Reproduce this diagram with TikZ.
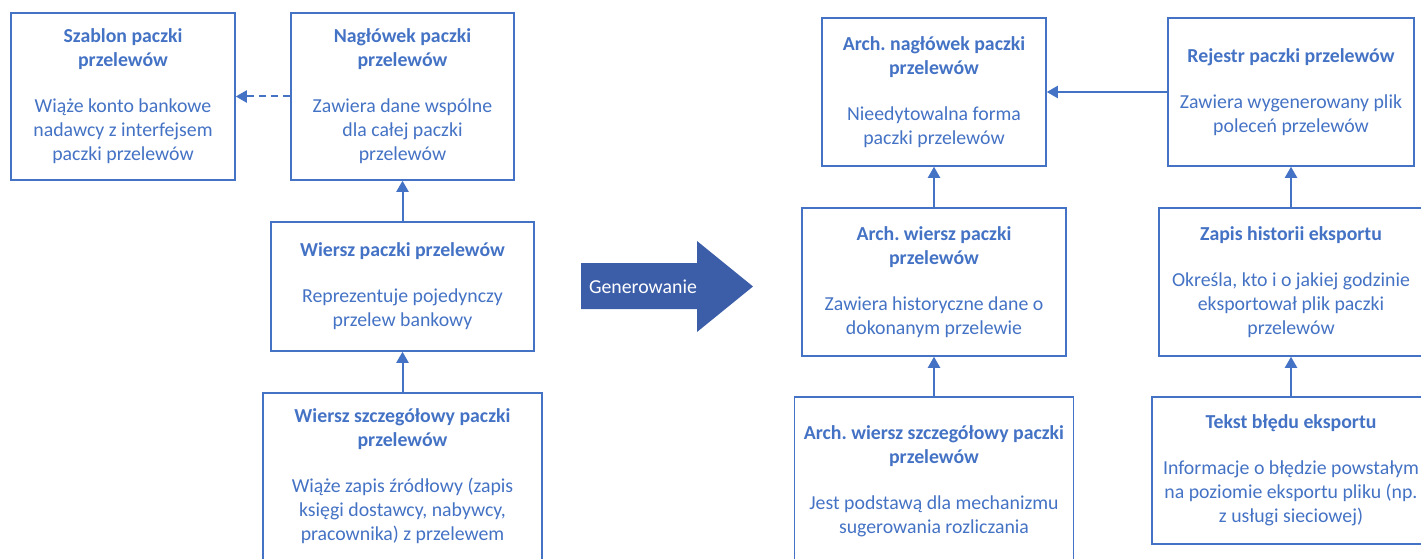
\documentclass[tikz,border=0pt]{standalone}
\usepackage{fontspec}
\setmainfont{Carlito}
\usetikzlibrary{arrows.meta}
\definecolor{mblue}{HTML}{4472C4}
\definecolor{dblue}{HTML}{3C5DA8}
\frenchspacing
\tikzset{
  box/.style={draw=mblue, line width=1.5pt, text=mblue, align=center,
    font=\fontsize{19.8}{24}\selectfont, inner sep=0pt},
  conn/.style={draw=mblue, line width=2pt, -{Triangle[length=11pt,width=12pt]}},
  dashconn/.style={conn, dash pattern=on 7pt off 5pt},
}
\begin{document}
\begin{tikzpicture}[x=1pt,y=-1pt]
\useasboundingbox (0,0) rectangle (1421,559);
\clip (0,0) rectangle (1421,559);
\node[box, minimum width=224pt, minimum height=167pt] (szablon) at (123,96.5)
  {\textbf{Szablon paczki}\\\textbf{przelewów}\\[22pt]Wiąże konto bankowe\\nadawcy z interfejsem\\paczki przelewów};
\node[box, minimum width=223pt, minimum height=167pt] (naglowek) at (402.5,96.5)
  {\textbf{Nagłówek paczki}\\\textbf{przelewów}\\[22pt]Zawiera dane wspólne\\dla całej paczki\\przelewów};
\node[box, minimum width=263pt, minimum height=129pt] (wiersz) at (402.5,286.5)
  {\textbf{Wiersz paczki przelewów}\\[22pt]Reprezentuje pojedynczy\\przelew bankowy};
\node[box, minimum width=279pt, minimum height=167pt] (wszcz) at (402.5,476.5)
  {\textbf{Wiersz szczegółowy paczki}\\\textbf{przelewów}\\[22pt]Wiąże zapis źródłowy (zapis\\księgi dostawcy, nabywcy,\\pracownika) z przelewem};

\fill[dblue] (581,263) -- (697,263) -- (697,241) -- (753,286.5) -- (697,332) -- (697,309) -- (581,309) -- cycle;
\node[text=white, font=\fontsize{19.8}{24}\selectfont, inner sep=0pt] (gen) at (643,286.5) {Generowanie};

\node[box, minimum width=224pt, minimum height=148pt] (anagl) at (934,92)
  {\textbf{Arch. nagłówek paczki}\\\textbf{przelewów}\\[22pt]Nieedytowalna forma\\paczki przelewów};
\node[box, minimum width=246pt, minimum height=148pt] (rejestr) at (1291,92)
  {\textbf{Rejestr paczki przelewów}\\[22pt]Zawiera wygenerowany plik\\poleceń przelewów};
\node[box, minimum width=264pt, minimum height=148pt] (awiersz) at (934,282)
  {\textbf{Arch. wiersz paczki}\\\textbf{przelewów}\\[22pt]Zawiera historyczne dane o\\dokonanym przelewie};
\node[box, minimum width=264pt, minimum height=148pt] (zapis) at (1291,282)
  {\textbf{Zapis historii eksportu}\\[22pt]Określa, kto i o jakiej godzinie\\eksportował plik paczki\\przelewów};
\node[box, minimum width=279pt, minimum height=169pt] (aszcz) at (934,481.5)
  {\textbf{Arch. wiersz szczegółowy paczki}\\\textbf{przelewów}\\[22pt]Jest podstawą dla mechanizmu\\sugerowania rozliczania};
\node[box, minimum width=278pt, minimum height=147pt] (tekst) at (1291,470.5)
  {\textbf{Tekst błędu eksportu}\\[22pt]Informacje o błędzie powstałym\\na poziomie eksportu pliku (np.\\z usługi sieciowej)};

\draw[dashconn] (naglowek.west) -- (szablon.east);
\draw[conn] (wiersz.north) -- (naglowek.south);
\draw[conn] (wszcz.north) -- (wiersz.south);
\draw[conn] (rejestr.west) -- (anagl.east);
\draw[conn] (awiersz.north) -- (anagl.south);
\draw[conn] (aszcz.north) -- (awiersz.south);
\draw[conn] (zapis.north) -- (rejestr.south);
\draw[conn] (tekst.north) -- (zapis.south);
\end{tikzpicture}
\end{document}
